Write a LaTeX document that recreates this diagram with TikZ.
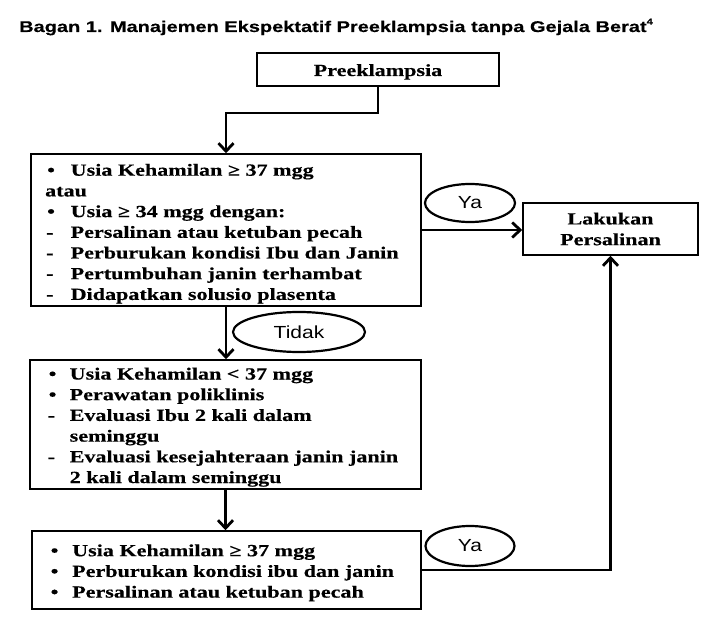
\documentclass[tikz,border=0pt]{standalone}
\usepackage{fontspec}
\setmainfont{Liberation Serif}
\newfontfamily\boxfont{Liberation Serif}[FakeStretch=1.30,FakeBold=0.4]
\newfontfamily\titlefont{Liberation Sans}[FakeStretch=1.29,FakeBold=0.3]
\newfontfamily\ellfont{Liberation Sans}[FakeStretch=1.2]
\usetikzlibrary{arrows.meta,shapes.geometric}
\newlength\indw
\newcommand\tbul[1]{\makebox[\indw][l]{\hspace{2pt}•}#1}
\newcommand\tdas[1]{\makebox[\indw][l]{\hspace{1pt}-}#1}
\newcommand\tcont[1]{\hspace*{\indw}#1}
\tikzset{
  box/.style={draw, line width=1.5pt, inner sep=0pt},
  bfnt/.style={font=\boxfont\bfseries\fontsize{17}{20.7}\selectfont},
  boxtext/.style={bfnt, inner sep=0pt, anchor=north west, align=left},
  conn/.style={line width=2.8pt},
  arr/.style={conn, -{Straight Barb[length=8pt,width=15pt]}},
  lab/.style={draw, ellipse, line width=2.2pt, inner sep=0pt, font=\ellfont\fontsize{17.5}{19}\selectfont},
}
\begin{document}
\begin{tikzpicture}[x=1pt,y=-1pt]
\fill[white] (0,0) rectangle (720,636);
\useasboundingbox (0,0) rectangle (720,636);

\node[anchor=base west, inner sep=0pt, font=\titlefont\bfseries\fontsize{15.5}{18}\selectfont] (title) at (19,32)
  {Bagan 1. Manajemen Ekspektatif Preeklampsia tanpa Gejala Berat\raisebox{7.5pt}{\fontsize{8.5}{8.5}\selectfont 4}};

% boxes
\node[box, bfnt, minimum width=242pt, minimum height=33pt, text height=13pt, text depth=0pt] (pre) at (378,69.5) {Preeklampsia};
\node[box, minimum width=390pt, minimum height=152pt] (b1) at (226,230) {};
\node[box, minimum width=391pt, minimum height=129pt] (b2) at (225.5,424.5) {};
\node[box, minimum width=389pt, minimum height=78pt] (b3) at (226.5,570) {};
\node[box, bfnt, align=center, minimum width=175pt, minimum height=52pt] (lak) at (610.5,229) {Lakukan\\Persalinan};

% box texts
\setlength\indw{25.5pt}
\node[boxtext] (t1) at (45,162.5) {\rule{0pt}{13pt}\tbul{Usia Kehamilan ≥ 37 mgg}\\
atau\\
\tbul{Usia ≥ 34 mgg dengan:}\\
\tdas{Persalinan atau ketuban pecah}\\
\tdas{Perburukan kondisi Ibu dan Janin}\\
\tdas{Pertumbuhan janin terhambat}\\
\tdas{Didapatkan solusio plasenta}};

\setlength\indw{23pt}
\node[boxtext] (t2) at (46.5,366.3) {\rule{0pt}{13pt}\tbul{Usia Kehamilan < 37 mgg}\\
\tbul{Perawatan poliklinis}\\
\tdas{Evaluasi Ibu 2 kali dalam}\\
\tcont{seminggu}\\
\tdas{Evaluasi kesejahteraan janin janin}\\
\tcont{2 kali dalam seminggu}};

\setlength\indw{23.5pt}
\node[boxtext] (t3) at (48.5,543) {\rule{0pt}{13pt}\tbul{Usia Kehamilan ≥ 37 mgg}\\
\tbul{Perburukan kondisi ibu dan janin}\\
\tbul{Persalinan atau ketuban pecah}};

% labels
\node[lab, minimum width=90pt, minimum height=38pt] (ya1) at (470,203) {Ya};
\node[lab, minimum width=132pt, minimum height=40pt] (tidak) at (299,332) {Tidak};
\node[lab, minimum width=89pt, minimum height=40pt] (ya2) at (470,546) {Ya};

% connectors
\coordinate (bend) at (378,113);
\draw[arr] (pre.south) -- (bend) -| (b1.north);
\draw[arr] (b1.south) -- (b1.south |- b2.north);
\draw[arr] (b2.south) -- (b2.south |- b3.north);
\draw[arr] (b1.east) -- (b1.east -| lak.west);
\draw[arr] (b3.east) -| (lak.south);
\end{tikzpicture}
\end{document}
